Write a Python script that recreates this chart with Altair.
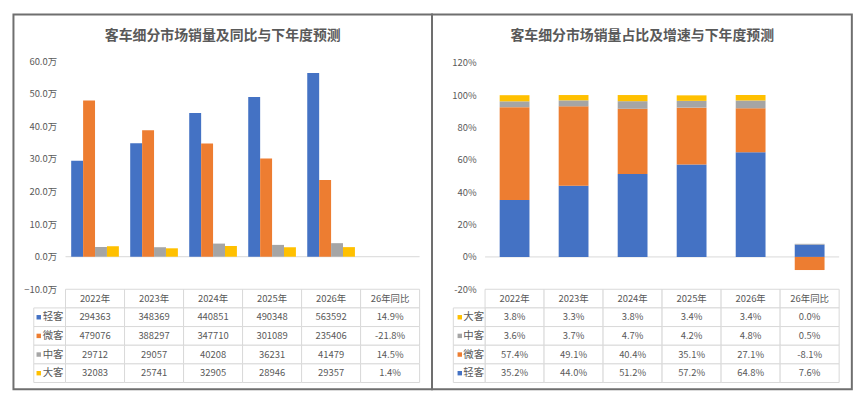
import altair as alt
import pandas as pd

cols = ["2022年", "2023年", "2024年", "2025年", "2026年", "26年同比"]
years = cols[:5]
series = ["轻客", "微客", "中客", "大客"]
colors = ["#4472C4", "#ED7D31", "#A5A5A5", "#FFC000"]

sales = {
    "轻客": [294363, 348369, 440851, 490348, 563592],
    "微客": [479076, 388297, 347710, 301089, 235406],
    "中客": [29712, 29057, 40208, 36231, 41479],
    "大客": [32083, 25741, 32905, 28946, 29357],
}
sales_yoy = {"轻客": "14.9%", "微客": "-21.8%", "中客": "14.5%", "大客": "1.4%"}

share = {
    "轻客": [35.2, 44.0, 51.2, 57.2, 64.8],
    "微客": [57.4, 49.1, 40.4, 35.1, 27.1],
    "中客": [3.6, 3.7, 4.7, 4.2, 4.8],
    "大客": [3.8, 3.3, 3.8, 3.4, 3.4],
}
share_chg = {"轻客": 7.6, "微客": -8.1, "中客": 0.5, "大客": 0.0}

title_left = "客车细分市场销量及同比与下年度预测"
title_right = "客车细分市场销量占比及增速与下年度预测"

FONT = "Noto Sans CJK SC"
TXT = "#595959"
GRID = "#d9d9d9"
FRAME = "#6f6f6f"
W = 357
H = 324


def build_panel(bars_df, bars_layer_fn, row_order, table_text, y_dom, y_range, y_vals, label_expr,
                title, frame_x, sq_x, lab_x):
    xs = alt.Scale(domain=cols, paddingInner=0, paddingOuter=0)
    rows = ["hdr"] + row_order
    ys = alt.Scale(domain=rows, range=[230, H], paddingInner=0, paddingOuter=0)
    yq = alt.Scale(domain=y_dom, range=y_range, nice=False, zero=False)
    cscale = alt.Scale(domain=series, range=colors)

    bars = bars_layer_fn(bars_df, xs, yq, cscale, y_vals, label_expr)

    zero = alt.Chart(pd.DataFrame({"z": [0]})).mark_rule(color=GRID, strokeWidth=1).encode(
        y=alt.Y("z:Q", scale=yq, axis=None)
    )

    cells = []
    for r in rows:
        for i, c in enumerate(cols):
            cells.append({"row": r, "col": c, "txt": table_text[r][i]})
    cell_df = pd.DataFrame(cells)

    grid = alt.Chart(cell_df).mark_rect(fill="white", stroke=GRID, strokeWidth=1).encode(
        x=alt.X("col:N", scale=xs, axis=None),
        y=alt.Y("row:N", scale=ys, axis=None),
    )
    gtext = alt.Chart(cell_df).mark_text(font=FONT, fontSize=9.5, color=TXT, baseline="middle").encode(
        x=alt.X("col:N", scale=xs, axis=None),
        y=alt.Y("row:N", scale=ys, axis=None),
        text="txt:N",
    )

    lab_df = pd.DataFrame({"row": row_order, "series": row_order})
    lab_cells = alt.Chart(lab_df).mark_rect(fill="white", stroke=GRID, strokeWidth=1).encode(
        x=alt.value(-32), x2=alt.value(0),
        y=alt.Y("row:N", scale=ys, axis=None),
    )
    lab_sq = alt.Chart(lab_df).mark_point(shape="square", filled=True, size=20, opacity=1).encode(
        x=alt.value(sq_x),
        y=alt.Y("row:N", scale=ys, axis=None),
        color=alt.Color("series:N", scale=cscale, legend=None),
    )
    lab_txt = alt.Chart(lab_df).mark_text(font=FONT, fontSize=10.5, color=TXT, align="left",
                                          baseline="middle").encode(
        x=alt.value(lab_x),
        y=alt.Y("row:N", scale=ys, axis=None),
        text="series:N",
    )

    one = pd.DataFrame({"t": [title]})
    ttl = alt.Chart(one).mark_text(font=FONT, fontSize=14, fontWeight="bold", color=TXT,
                                   baseline="middle").encode(
        x=alt.value(158.5), y=alt.value(-25), text="t:N"
    )
    frame = alt.Chart(one).mark_rect(fillOpacity=0, stroke=FRAME, strokeWidth=2).encode(
        x=alt.value(frame_x[0]), x2=alt.value(frame_x[1]),
        y=alt.value(-47), y2=alt.value(330.7),
    )

    return alt.layer(zero, bars, grid, gtext, lab_cells, lab_sq, lab_txt, ttl, frame).resolve_scale(
        y="independent"
    ).properties(width=W, height=H)


def yaxis(vals, expr):
    return alt.Axis(values=vals, labelExpr=expr, domain=False, ticks=False, grid=False,
                    labelColor=TXT, labelFontSize=9.5, labelFont=FONT, labelPadding=9, title=None)


left_rows = []
for s in series:
    for i, y in enumerate(years):
        left_rows.append({"series": s, "col": y, "v": sales[s][i] / 10000.0, "ord": series.index(s)})
left_df = pd.DataFrame(left_rows)


def left_bars(df, xs, yq, cscale, vals, expr):
    return alt.Chart(df).mark_bar().encode(
        x=alt.X("col:N", scale=xs, axis=None),
        xOffset=alt.XOffset("series:N", scale=alt.Scale(domain=series, paddingInner=0, paddingOuter=0.475)),
        y=alt.Y("v:Q", scale=yq, axis=yaxis(vals, expr)),
        color=alt.Color("series:N", scale=cscale, legend=None),
    )


left_table = {"hdr": cols}
for s in series:
    left_table[s] = [str(v) for v in sales[s]] + [sales_yoy[s]]

right_rows = []
for s in series:
    for i, y in enumerate(years):
        right_rows.append({"series": s, "col": y, "v": share[s][i], "ord": series.index(s)})
    right_rows.append({"series": s, "col": cols[5], "v": share_chg[s], "ord": series.index(s)})
right_df = pd.DataFrame(right_rows)


def right_bars(df, xs, yq, cscale, vals, expr):
    return alt.Chart(df).mark_bar(width=alt.RelativeBandSize(0.505)).encode(
        x=alt.X("col:N", scale=xs, axis=None),
        y=alt.Y("v:Q", scale=yq, axis=yaxis(vals, expr), stack="zero"),
        color=alt.Color("series:N", scale=cscale, legend=None),
        order=alt.Order("ord:Q", sort="ascending"),
    )


right_order = ["大客", "中客", "微客", "轻客"]
right_table = {"hdr": cols}
for s in series:
    right_table[s] = ["%.1f%%" % v for v in share[s]] + ["%.1f%%" % share_chg[s]]

left = build_panel(left_df, left_bars, series, left_table, [-10, 60], [230, 0],
                   [-10, 0, 10, 20, 30, 40, 50, 60],
                   "format(datum.value, '.1f') + '万'", title_left, (-52.5, 369.5), -27, -23)
right = build_panel(right_df, right_bars, right_order, right_table, [-20, 120], [230, 1.7],
                    [-20, 0, 20, 40, 60, 80, 100, 120],
                    "datum.value + '%'", title_right, (-53.5, 369.8), -25.5, -22)

chart = alt.hconcat(left, right, spacing=66, bounds="flush").properties(
    padding={"left": 4, "top": 4, "right": 4, "bottom": 4}
).configure(font=FONT, background="white").configure_view(stroke=None, strokeWidth=0)

chart.save("out.html", embed_options={"renderer": "svg", "actions": False})
